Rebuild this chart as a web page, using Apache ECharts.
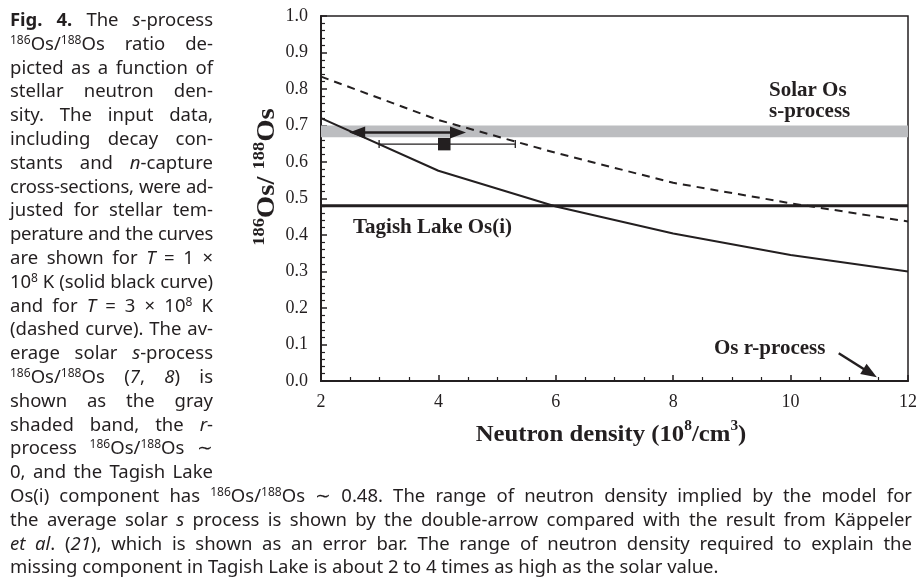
<!DOCTYPE html>
<html>
<head>
<meta charset="utf-8">
<script src="https://cdn.jsdelivr.net/npm/echarts@6/dist/echarts.min.js"></script>
<style>
html, body { margin: 0; padding: 0; background: #fff; }
#chart { position: absolute; left: 0; top: 0; width: 922px; height: 579px; }
.cap { position: absolute; left: 10px; font-family: "Noto Sans", sans-serif; font-size: 18.5px; color: #231f20; }
.cap div { height: 23.8px; line-height: 23.8px; white-space: nowrap; text-align: justify; text-align-last: justify; }
.cap div.last { text-align-last: left; }
.cap sup { font-size: 0.65em; vertical-align: 0.5em; line-height: 0; }
</style>
</head>
<body>
<div id="chart"></div>
<div class="cap" id="capLeft" style="top:7px;width:203px">
  <div><b>Fig. 4.</b> The <i>s</i>-process</div>
  <div><sup>186</sup>Os/<sup>188</sup>Os ratio de-</div>
  <div>picted as a function of</div>
  <div>stellar neutron den-</div>
  <div>sity. The input data,</div>
  <div>including decay con-</div>
  <div>stants and <i>n</i>-capture</div>
  <div>cross-sections, were ad-</div>
  <div>justed for stellar tem-</div>
  <div>perature and the curves</div>
  <div>are shown for <i>T</i> = 1 ×</div>
  <div>10<sup>8</sup> K (solid black curve)</div>
  <div>and for <i>T</i> = 3 × 10<sup>8</sup> K</div>
  <div>(dashed curve). The av-</div>
  <div>erage solar <i>s</i>-process</div>
  <div><sup>186</sup>Os/<sup>188</sup>Os (<i>7</i>, <i>8</i>) is</div>
  <div>shown as the gray</div>
  <div>shaded band, the <i>r</i>-</div>
  <div>process <sup>186</sup>Os/<sup>188</sup>Os ∼</div>
  <div>0, and the Tagish Lake</div>
</div>
<div class="cap" id="capBottom" style="top:483px;width:902px">
  <div>Os(i) component has <sup>186</sup>Os/<sup>188</sup>Os ∼ 0.48. The range of neutron density implied by the model for</div>
  <div>the average solar <i>s</i> process is shown by the double-arrow compared with the result from Käppeler</div>
  <div><i>et al</i>. (<i>21</i>), which is shown as an error bar. The range of neutron density required to explain the</div>
  <div class="last">missing component in Tagish Lake is about 2 to 4 times as high as the solar value.</div>
</div>
<script>
// data
var densities = [2, 4, 6, 8, 10, 12];
var ratioT1 = [0.72, 0.576, 0.478, 0.404, 0.345, 0.30];   // T = 1e8 K, solid
var ratioT3 = [0.834, 0.715, 0.625, 0.543, 0.487, 0.437]; // T = 3e8 K, dashed
var solarBand = [0.668, 0.70];          // solar s-process 186/188
var tagishRatio = 0.48;                 // Tagish Lake Os(i)
var modelRange = [2.48, 4.47, 0.681];   // double arrow: from, to, at ratio
var kappeler = [4.10, 0.649, 2.99, 5.31]; // x, y, low, high
var rArrow = [10.82, 0.076, 11.47, 0.01]; // Os r-process pointer

var ink = '#231f20';
var serif = '"Liberation Serif", "Times New Roman", serif';

// squeeze caption lines that are wider than their column
document.querySelectorAll('.cap div').forEach(function (d) {
    d.innerHTML = '<span>' + d.innerHTML + '</span>';
    var w = d.firstChild.getBoundingClientRect().width;
    var box = d.clientWidth;
    if (w > box) {
        var n = d.textContent.length;
        d.style.letterSpacing = ((box - w) / n - 0.05) + 'px';
    }
});

var chart = echarts.init(document.getElementById('chart'));

function zip(xs, ys) {
    return xs.map(function (x, i) { return [x, ys[i]]; });
}

function arrowHead(tip, ang, len, half) {
    var c = Math.cos(ang), s = Math.sin(ang);
    var bx = tip[0] - c * len, by = tip[1] - s * len;
    return {
        type: 'polygon',
        shape: { points: [tip, [bx - s * half, by + c * half], [bx + s * half, by - c * half]] },
        style: { fill: ink }
    };
}

// arrow from (x1,y1) to (x2,y2), head at end, optionally also at start
function renderArrow(both, width) {
    return function (params, api) {
        var p1 = api.coord([api.value(0), api.value(1)]);
        var p2 = api.coord([api.value(2), api.value(3)]);
        var ang = Math.atan2(p2[1] - p1[1], p2[0] - p1[0]);
        var len = 16, c = Math.cos(ang), s = Math.sin(ang);
        var a = both ? [p1[0] + c * len * 0.8, p1[1] + s * len * 0.8] : p1;
        var b = [p2[0] - c * len * 0.8, p2[1] - s * len * 0.8];
        var kids = [{
            type: 'line',
            shape: { x1: a[0], y1: a[1], x2: b[0], y2: b[1] },
            style: { stroke: ink, lineWidth: width }
        }, arrowHead(p2, ang, len, 6)];
        if (both) kids.push(arrowHead(p1, ang + Math.PI, len, 6));
        return { type: 'group', children: kids };
    };
}

var option = {
    animation: false,
    grid: {
        left: 321, right: 14, top: 16, bottom: 198,
        show: true, borderColor: ink, borderWidth: 1.5
    },
    xAxis: {
        type: 'value', min: 2, max: 12, interval: 2,
        axisLine: { lineStyle: { color: ink, width: 2 } },
        axisTick: { inside: true, length: 6, lineStyle: { color: ink, width: 1.5 } },
        minorTick: { show: true, splitNumber: 4, length: 4, lineStyle: { color: ink, width: 1.2 } },
        splitLine: { show: false },
        axisLabel: { fontFamily: serif, fontSize: 18, color: ink, margin: 12 }
    },
    yAxis: {
        type: 'value', min: 0, max: 1, interval: 0.1,
        axisLine: { show: true, lineStyle: { color: ink, width: 2 } },
        axisTick: { show: true, inside: true, length: 6, lineStyle: { color: ink, width: 1.5 } },
        minorTick: { show: true, splitNumber: 5, length: 4, lineStyle: { color: ink, width: 1.2 } },
        splitLine: { show: false },
        axisLabel: {
            fontFamily: serif, fontSize: 18, color: ink, margin: 13,
            formatter: function (v) { return v.toFixed(1); }
        }
    },
    graphic: [
        {
            type: 'text', x: 266, y: 177, rotation: Math.PI / 2, scaleX: 1.15,
            style: {
                text: '{sup|186}{b|Os/ }{sup|188}{b|Os}',
                align: 'center', verticalAlign: 'middle',
                rich: {
                    b: { fontFamily: serif, fontWeight: 'bold', fontSize: 25, fill: ink, lineHeight: 28, verticalAlign: 'bottom' },
                    sup: { fontFamily: serif, fontWeight: 'bold', fontSize: 16, fill: ink, lineHeight: 22, verticalAlign: 'top' }
                }
            }
        },
        {
            type: 'text', x: 611, y: 433, scaleX: 1.1,
            style: {
                text: '{b|Neutron density (10}{sup|8}{b|/cm}{sup|3}{b|)}',
                align: 'center', verticalAlign: 'middle',
                rich: {
                    b: { fontFamily: serif, fontWeight: 'bold', fontSize: 22.5, fill: ink, lineHeight: 27, verticalAlign: 'bottom' },
                    sup: { fontFamily: serif, fontWeight: 'bold', fontSize: 14, fill: ink, lineHeight: 21, verticalAlign: 'top' }
                }
            }
        },
        { type: 'text', x: 769, y: 91, style: { text: 'Solar Os', font: 'bold 21px ' + serif, fill: ink, verticalAlign: 'middle' } },
        { type: 'text', x: 769, y: 112, style: { text: 's-process', font: 'bold 21px ' + serif, fill: ink, verticalAlign: 'middle' } },
        { type: 'text', x: 353, y: 228, style: { text: 'Tagish Lake Os(i)', font: 'bold 21px ' + serif, fill: ink, verticalAlign: 'middle' } },
        { type: 'text', x: 714, y: 349, style: { text: 'Os r-process', font: 'bold 21px ' + serif, fill: ink, verticalAlign: 'middle' } }
    ],
    series: [
        {
            name: 'solar band',
            type: 'custom', z: 1,
            data: [solarBand],
            renderItem: function (params, api) {
                var a = api.coord([2, api.value(1)]);
                var b = api.coord([12, api.value(0)]);
                return { type: 'rect', shape: { x: a[0], y: a[1], width: b[0] - a[0], height: b[1] - a[1] }, style: { fill: '#bcbdc0' } };
            }
        },
        {
            name: 'T=1e8 K', type: 'line', z: 3,
            data: zip(densities, ratioT1),
            showSymbol: false,
            lineStyle: { color: ink, width: 2 }
        },
        {
            name: 'T=3e8 K', type: 'line', z: 3,
            data: zip(densities, ratioT3),
            showSymbol: false,
            lineStyle: { color: ink, width: 2, type: [8, 6] }
        },
        {
            name: 'Tagish Lake', type: 'line', z: 3,
            data: [[2, tagishRatio], [12, tagishRatio]],
            showSymbol: false,
            lineStyle: { color: ink, width: 3 }
        },
        {
            name: 'model range', type: 'custom', z: 4,
            data: [[modelRange[0], modelRange[2], modelRange[1], modelRange[2]]],
            renderItem: renderArrow(true, 2.5)
        },
        {
            name: 'r-process arrow', type: 'custom', z: 4,
            data: [rArrow],
            renderItem: renderArrow(false, 2.5)
        },
        {
            name: 'Kappeler', type: 'custom', z: 4,
            data: [kappeler],
            renderItem: function (params, api) {
                var y = api.coord([0, api.value(1)])[1];
                var lo = api.coord([api.value(2), 0])[0];
                var hi = api.coord([api.value(3), 0])[0];
                var cx = api.coord([api.value(0), 0])[0];
                var st = { stroke: ink, lineWidth: 1.3 };
                return {
                    type: 'group',
                    children: [
                        { type: 'line', shape: { x1: lo, y1: y, x2: hi, y2: y }, style: st },
                        { type: 'line', shape: { x1: lo, y1: y - 4, x2: lo, y2: y + 4 }, style: st },
                        { type: 'line', shape: { x1: hi, y1: y - 4, x2: hi, y2: y + 4 }, style: st },
                        { type: 'rect', shape: { x: cx - 6.25, y: y - 6.25, width: 12.5, height: 12.5 }, style: { fill: ink } }
                    ]
                };
            }
        }
    ]
};

chart.setOption(option);
</script>
</body>
</html>
